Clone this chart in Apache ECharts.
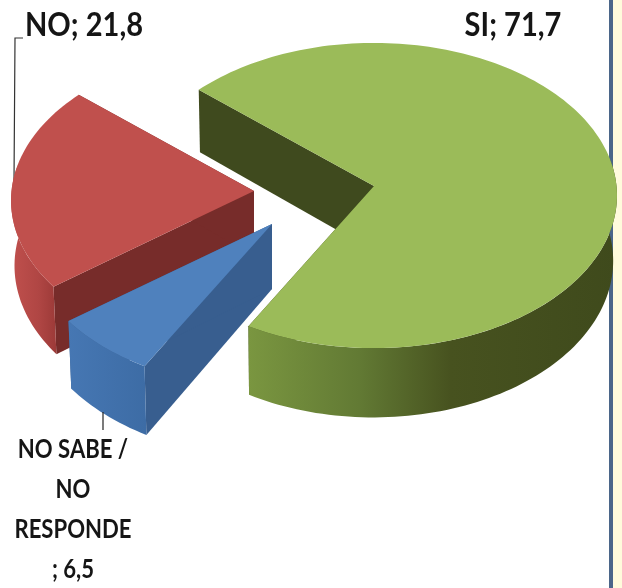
<!DOCTYPE html>
<html><head><meta charset="utf-8">
<style>html,body{margin:0;padding:0;background:#fffff0}#c{width:622px;height:588px}</style>
<script src="https://cdn.jsdelivr.net/npm/echarts@6/dist/echarts.min.js"></script>
</head><body><div id="c"></div>
<script>
const categories = ['SI', 'NO SABE / NO RESPONDE', 'NO'];
const values = [71.7, 6.5, 21.8];
const labels = ['SI; 71,7', 'NO SABE /\nNO\nRESPONDE\n; 6,5', 'NO; 21,8'];

const startAngle = 311.2;      // clockwise from the back of the pie
const rx = 242.5, ry = 152, persp = 0.0623, depth = 65, converge = 0.012, midX = 300;
const apexes = [[374, 186], [272, 224], [254, 191]];
const sizes = [1, 1.015, 1];
const drawOrder = [0, 2, 1];
const topColors = ['#9bbb59', '#4f81bd', '#c0504d'];
const edgeColors = ['#3f4a1e', '#385e8f', '#772c2a'];
const total = values.reduce((a, b) => a + b, 0);

function proj(i, deg, r, down) {
  const t = deg * Math.PI / 180;
  const u = r * Math.sin(t), v = r * Math.cos(t);
  const s = 1 / (1 + persp * v);
  const x = apexes[i][0] + rx * sizes[i] * u * s;
  const y = apexes[i][1] - ry * sizes[i] * v * s;
  return down ? [x + (midX - x) * converge, y + depth * s] : [x, y];
}
function arc(i, a0, a1, down) {
  const pts = [], n = Math.max(2, Math.ceil(Math.abs(a1 - a0) / 1.5));
  for (let k = 0; k <= n; k++) pts.push(proj(i, a0 + (a1 - a0) * k / n, 1, down));
  return pts;
}
function sliceAngles(i) {
  let a = startAngle;
  for (let k = 0; k < i; k++) a += values[k] / total * 360;
  return [a, a + values[i] / total * 360];
}
function sideFill(i, xs) {
  const x0 = Math.min(...xs), x1 = Math.max(...xs);
  const stops = i === 0
    ? [[0, '#7a9640'], [0.3, '#627a34'], [0.55, '#47521f'], [1, '#3f4a1c']]
    : i === 1
    ? [[0, '#4677b3'], [1, '#3d6ca5']]
    : [[0, '#c0504d'], [0.6, '#b04644'], [1, '#9c3a38']];
  return { type: 'linear', x: x0, y: 0, x2: x1, y2: 0, global: true,
    colorStops: stops.map(s => ({ offset: s[0], color: s[1] })) };
}
function renderItem(params, api) {
  const i = params.dataIndex;
  const [a0, a1] = sliceAngles(i);
  const z = drawOrder.indexOf(i) * 10 + 1;
  const children = [];
  const wall = ang => {
    const o = [apexes[i][0], apexes[i][1]];
    const oD = [o[0], o[1] + depth];
    const p = proj(i, ang, 1, false), pD = proj(i, ang, 1, true);
    return { type: 'polygon', z2: z, shape: { points: [o, p, pD, oD] },
      style: { fill: edgeColors[i] } };
  };
  children.push(wall(a0), wall(a1));
  // outer rim: only the part that faces the viewer
  for (const off of [0, 360]) {
    const s = Math.max(a0, 80 + off), e = Math.min(a1, 280 + off);
    if (e <= s) continue;
    const pts = arc(i, s, e, false).concat(arc(i, e, s, true));
    children.push({ type: 'polygon', z2: z + 1, shape: { points: pts },
      style: { fill: sideFill(i, pts.map(p => p[0])) } });
  }
  const topFace = [apexes[i].slice()].concat(arc(i, a0, a1, false));
  children.push({ type: 'polygon', z2: z + 2, shape: { points: topFace },
    style: { fill: topColors[i] } });
  return { type: 'group', children };
}
const font = 'Lato,"Liberation Sans",sans-serif';
const chart = echarts.init(document.getElementById('c'), null, { renderer: 'canvas' });
chart.setOption({
  backgroundColor: '#ffffff',
  animation: false,
  graphic: [
    { type: 'rect', z: 0, shape: { x: 613, y: 0, width: 9, height: 588 }, style: { fill: '#fffbdc' } },
    { type: 'rect', z: 0, shape: { x: 609, y: 0, width: 4, height: 588 }, style: { fill: '#4b6689' } },
    { type: 'polyline', z: 1, shape: { points: [[23, 38], [15, 38], [14, 182]] }, style: { stroke: '#333', fill: null, lineWidth: 1.2 } },
    { type: 'line', z: 5, shape: { x1: 103, y1: 412, x2: 103, y2: 430 }, style: { stroke: '#222', lineWidth: 1.2 } },
    { type: 'text', z: 9, x: 84, y: 25, scaleX: 0.88, style: { x: 0, y: 0, text: labels[2], font: 'bold 33px ' + font, fill: '#151515', align: 'center', verticalAlign: 'middle' } },
    { type: 'text', z: 9, x: 513, y: 25, scaleX: 0.88, style: { x: 0, y: 0, text: labels[0], font: 'bold 33px ' + font, fill: '#151515', align: 'center', verticalAlign: 'middle' } },
    { type: 'text', z: 9, x: 73, y: 510, scaleX: 0.85, style: { x: 0, y: 0, text: labels[1], font: 'bold 26px ' + font, lineHeight: 40, fill: '#151515', align: 'center', verticalAlign: 'middle' } }
  ],
  series: [{
    type: 'custom', coordinateSystem: 'none', silent: true, z: 3,
    renderItem,
    data: categories.map((name, i) => ({ name, value: [values[i]] }))
  }]
});
</script></body></html>
